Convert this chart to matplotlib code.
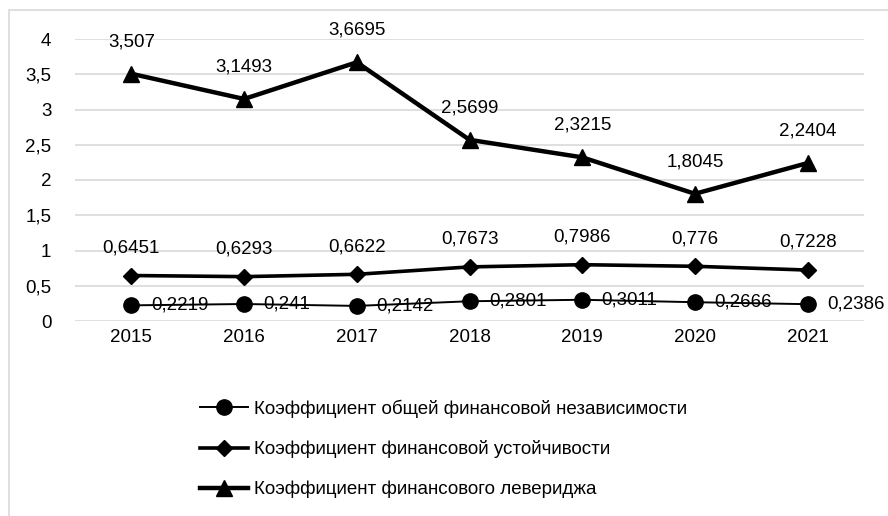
import matplotlib
matplotlib.use('Agg')
import matplotlib.pyplot as plt
from matplotlib.patches import Rectangle
from matplotlib.lines import Line2D
from matplotlib.ticker import FuncFormatter

plt.rcParams['font.family'] = ['Liberation Sans Narrow', 'Liberation Sans', 'DejaVu Sans']

# data
years = ['2015', '2016', '2017', '2018', '2019', '2020', '2021']
independence = [0.2219, 0.241, 0.2142, 0.2801, 0.3011, 0.2666, 0.2386]
stability = [0.6451, 0.6293, 0.6622, 0.7673, 0.7986, 0.776, 0.7228]
leverage = [3.507, 3.1493, 3.6695, 2.5699, 2.3215, 1.8045, 2.2404]
names = ['Коэффициент общей финансовой независимости',
         'Коэффициент финансовой устойчивости',
         'Коэффициент финансового левериджа']

def fmt(v):
    return ('%g' % v).replace('.', ',')

fig = plt.figure(figsize=(8.88, 5.16), dpi=100)
ax = fig.add_axes([75 / 888, 195 / 516, (864 - 75) / 888, (321 - 39) / 516])

# outer chart border (light gray)
fig.patches.append(Rectangle((9 / 888, -0.05), 1.2, 1 - 10 / 516 + 0.05,
                             transform=fig.transFigure, fill=False,
                             edgecolor='#d9d9d9', linewidth=1.2))

x = list(range(len(years)))
ax.plot(x, independence, color='black', lw=1.4, marker='o', ms=11)
ax.plot(x, stability, color='black', lw=2.6, marker='D', ms=8)
ax.plot(x, leverage, color='black', lw=3.2, marker='^', ms=11)

fs = 13.5
for xi, v in zip(x, leverage):
    ax.annotate(fmt(v), (xi, v), xytext=(0, 23), textcoords='offset points',
                ha='center', va='center', fontsize=fs)
for xi, v in zip(x, stability):
    ax.annotate(fmt(v), (xi, v), xytext=(0, 20), textcoords='offset points',
                ha='center', va='center', fontsize=fs)
for xi, v in zip(x, independence):
    ax.annotate(fmt(v), (xi, v), xytext=(14, 0), textcoords='offset points',
                ha='left', va='center', fontsize=fs)

ax.set_xlim(-0.5, 6.5)
ax.set_ylim(0, 4)
ax.set_xticks(x)
ax.set_xticklabels(years)
ax.set_yticks([0, 0.5, 1, 1.5, 2, 2.5, 3, 3.5, 4])
ax.yaxis.set_major_formatter(FuncFormatter(lambda v, p: fmt(v)))
ax.tick_params(length=0, labelsize=fs)
ax.tick_params(axis='y', pad=17)
ax.tick_params(axis='x', pad=6)
ax.grid(axis='y', color='#d9d9d9', lw=1.2)
ax.set_axisbelow(True)
for s in ax.spines.values():
    s.set_visible(False)

handles = [Line2D([], [], color='black', lw=1.4, marker='o', ms=11),
           Line2D([], [], color='black', lw=2.6, marker='D', ms=8),
           Line2D([], [], color='black', lw=3.2, marker='^', ms=11)]
fig.legend(handles, names, loc='upper left', bbox_to_anchor=(192 / 888, 1 - 392 / 516),
           frameon=False, fontsize=fs, handlelength=2.6, handletextpad=0.3,
           labelspacing=1.2, borderaxespad=0)

fig.savefig('out.png', dpi=100)
